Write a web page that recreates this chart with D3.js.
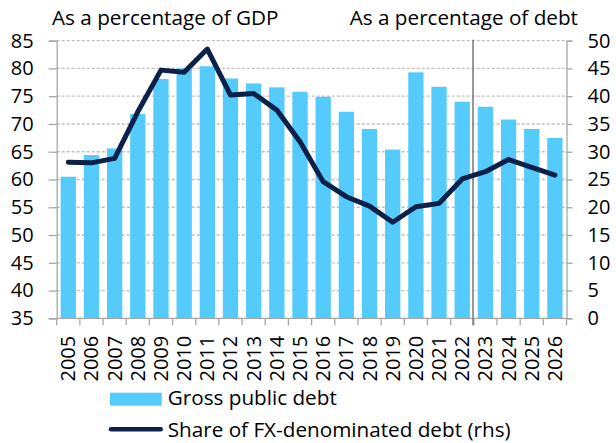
<!DOCTYPE html>
<html><head><meta charset="utf-8">
<script src="https://cdn.jsdelivr.net/npm/d3@7"></script>
<style>body{margin:0;background:#fff}svg{display:block}text{font-family:"Open Sans",sans-serif;fill:#000}</style>
</head><body><svg id="c" width="616" height="443"></svg>
<script>
const years = ["2005","2006","2007","2008","2009","2010","2011","2012","2013","2014","2015","2016","2017","2018","2019","2020","2021","2022","2023","2024","2025","2026"];
const grossDebt = [60.5,64.4,65.6,71.8,78.1,80.0,80.4,78.2,77.3,76.6,75.8,74.9,72.2,69.1,65.4,79.3,76.7,74.0,73.1,70.8,69.1,67.5];
const fxShare = [28.1,28.0,28.8,37.2,44.7,44.3,48.5,40.2,40.5,37.5,31.8,24.6,21.9,20.2,17.3,20.1,20.7,25.1,26.4,28.6,27.2,25.8];
const leftTicks = [35,40,45,50,55,60,65,70,75,80,85];
const rightTicks = [0,5,10,15,20,25,30,35,40,45,50];
const forecastStart = "2023";

const svg = d3.select("#c");
const m = {l:56.7, r:566.5, t:40.7, b:318.3};
const fs = "20px", ts = "20.7px";
const x = d3.scaleBand().domain(years).range([m.l, m.r]).paddingInner(0.34).paddingOuter(0.17);
const yL = d3.scaleLinear().domain([35,85]).range([m.b, m.t]);
const yR = d3.scaleLinear().domain([0,50]).range([m.b, m.t]);

// gridlines
svg.append("g").selectAll("line").data(leftTicks.filter(d=>d>35)).join("line")
  .attr("x1", m.l).attr("x2", m.r).attr("y1", d=>yL(d)).attr("y2", d=>yL(d))
  .attr("stroke","#c0c0c0").attr("stroke-width",1.3).attr("stroke-dasharray","3,2");

// bars
svg.append("g").selectAll("rect").data(years).join("rect")
  .attr("x", d=>x(d)).attr("width", x.bandwidth())
  .attr("y", (d,i)=>yL(grossDebt[i])).attr("height", (d,i)=>yL(35)-yL(grossDebt[i]))
  .attr("fill","#55cbfc");

// axes
const gL = svg.append("g").attr("transform",`translate(${m.l},0)`)
  .call(d3.axisLeft(yL).tickValues(leftTicks).tickSize(8).tickPadding(15));
const gR = svg.append("g").attr("transform",`translate(${m.r},0)`)
  .call(d3.axisRight(yR).tickValues(rightTicks).tickSize(6).tickPadding(15));
[gL,gR].forEach(g=>{
  g.select(".domain").attr("stroke","#a6a6a6").attr("stroke-width",1.3);
  g.selectAll(".tick line").attr("stroke","#a6a6a6").attr("stroke-width",1.3);
  g.selectAll("text").style("font-size",fs).attr("fill","#000");
});

// bottom axis
const bottom = svg.append("g").attr("transform",`translate(0,${m.b})`);
bottom.append("line").attr("x1",m.l).attr("x2",m.r).attr("stroke","#a6a6a6").attr("stroke-width",1.3);
const step = x.step();
const bounds = d3.range(years.length+1).map(i=> m.l + i*step);
bottom.selectAll("line.t").data(bounds).join("line").attr("class","t")
  .attr("x1",d=>d).attr("x2",d=>d).attr("y1",0).attr("y2",7).attr("stroke","#a6a6a6").attr("stroke-width",1.3);
bottom.selectAll("text").data(years).join("text")
  .attr("transform", d=>`translate(${x(d)+x.bandwidth()/2+7},17.5) rotate(-90)`)
  .attr("text-anchor","end").style("font-size",fs).text(d=>d);

// forecast divider
const fx = m.l + years.indexOf(forecastStart)*step - 0.8;
svg.append("line").attr("x1",fx).attr("x2",fx).attr("y1",m.t-1).attr("y2",m.b+7)
  .attr("stroke","#808080").attr("stroke-width",1.6);

// line
svg.append("path").datum(years)
  .attr("d", d3.line().x(d=>x(d)+x.bandwidth()/2).y((d,i)=>yR(fxShare[i])))
  .attr("fill","none").attr("stroke","#0c214a").attr("stroke-width",5).attr("stroke-linejoin","round").attr("stroke-linecap","round");

// titles
svg.append("text").attr("x",52).attr("y",25).style("font-size",ts).text("As a percentage of GDP");
svg.append("text").attr("x",578).attr("y",25).attr("text-anchor","end").style("font-size",ts).text("As a percentage of debt");

// legend
svg.append("rect").attr("x",110).attr("y",392.7).attr("width",51.7).attr("height",13).attr("fill","#55cbfc");
svg.append("text").attr("x",167.7).attr("y",405).style("font-size",ts).text("Gross public debt");
svg.append("line").attr("x1",111).attr("x2",160.7).attr("y1",429.3).attr("y2",429.3)
  .attr("stroke","#0c214a").attr("stroke-width",4.5).attr("stroke-linecap","round");
svg.append("text").attr("x",167.7).attr("y",436.7).style("font-size",ts).text("Share of FX-denominated debt (rhs)");
</script></body></html>
